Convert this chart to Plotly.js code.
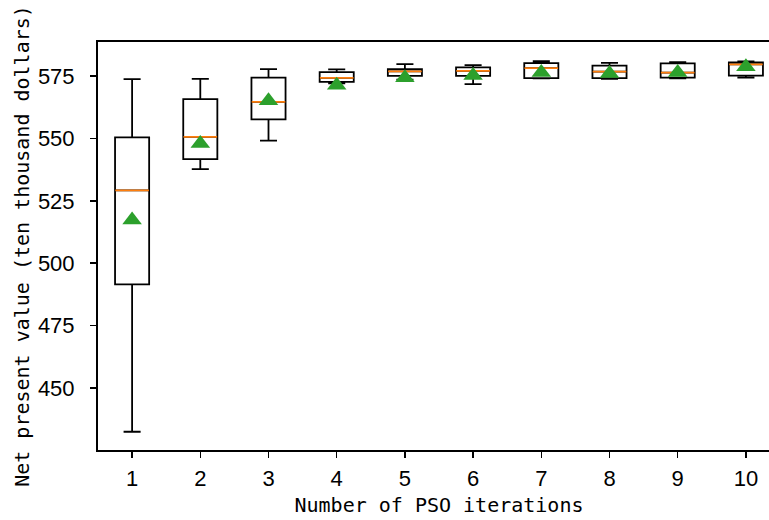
<!DOCTYPE html>
<html>
<head>
<meta charset="utf-8">
<script src="https://cdn.plot.ly/plotly-3.0.1.min.js"></script>
<style>
html, body { margin: 0; padding: 0; overflow: hidden; background: #fff; }
#chart { width: 782px; height: 520px; }
</style>
</head>
<body>
<div id="chart"></div>
<script>
// PSO iteration counts (x categories)
const iterations = [1, 2, 3, 4, 5, 6, 7, 8, 9, 10];
// Box statistics (ten thousand dollars)
const lowerWhisker = [432.5, 537.7, 549.1, 572.0, 573.5, 571.7, 574.0, 573.8, 574.0, 574.3];
const q1Values     = [491.5, 541.7, 557.6, 572.6, 575.0, 575.0, 574.1, 574.1, 574.3, 575.1];
const medianValues = [529.2, 550.6, 564.6, 574.2, 576.8, 577.0, 578.1, 576.7, 576.3, 579.6];
const q3Values     = [550.4, 565.7, 574.3, 576.5, 577.7, 578.4, 580.1, 579.1, 580.0, 580.4];
const upperWhisker = [573.7, 573.8, 577.7, 577.6, 579.7, 579.3, 580.9, 580.2, 580.5, 580.8];
const meanValues   = [517.3, 548.0, 565.1, 571.3, 574.3, 575.2, 576.4, 576.0, 576.4, 578.7];
const tickValsX = iterations;
const tickValsY = [450, 475, 500, 525, 550, 575];

const boxTrace = {
  type: 'box',
  x: iterations,
  q1: q1Values,
  median: medianValues,
  q3: q3Values,
  lowerfence: lowerWhisker,
  upperfence: upperWhisker,
  width: 0.5,
  whiskerwidth: 0.5,
  boxpoints: false,
  line: { color: '#000000', width: 1.8 },
  fillcolor: 'rgba(255,255,255,0)',
  showlegend: false,
  hoverinfo: 'skip'
};

const medianTrace = {
  type: 'scatter',
  mode: 'markers',
  x: iterations,
  y: medianValues,
  marker: { symbol: 'line-ew', size: 24, line: { color: '#ff7f0e', width: 1.8 } },
  showlegend: false,
  hoverinfo: 'skip'
};

const meanTrace = {
  type: 'scatter',
  mode: 'markers',
  x: iterations,
  y: meanValues,
  marker: { symbol: 'triangle-up', size: 17, color: '#2ca02c', line: { width: 0 } },
  showlegend: false,
  hoverinfo: 'skip'
};

const layout = {
  width: 782,
  height: 520,
  margin: { l: 98, r: 2, t: 42, b: 70 },
  paper_bgcolor: '#ffffff',
  plot_bgcolor: '#ffffff',
  showlegend: false,
  xaxis: {
    range: [0.5, 10.5],
    tickmode: 'array',
    tickvals: tickValsX,
    ticktext: tickValsX.map(String),
    ticks: 'outside',
    ticklen: 6,
    tickwidth: 1.5,
    tickcolor: '#000',
    ticklabelstandoff: 2,
    showgrid: false,
    zeroline: false,
    showline: true,
    linecolor: '#000',
    linewidth: 2,
    mirror: true,
    tickfont: { family: 'Liberation Sans, Arial, sans-serif', size: 22, color: '#000' },
    title: {
      text: 'Number of PSO iterations',
      font: { family: 'DejaVu Sans Mono, Liberation Mono, monospace', size: 20, color: '#000' },
      standoff: 8
    }
  },
  yaxis: {
    range: [425.2, 588.6],
    tickmode: 'array',
    tickvals: tickValsY,
    ticktext: tickValsY.map(String),
    ticks: 'outside',
    ticklen: 6,
    tickwidth: 1.5,
    tickcolor: '#000',
    ticklabelstandoff: 11,
    showgrid: false,
    zeroline: false,
    showline: true,
    linecolor: '#000',
    linewidth: 2,
    mirror: true,
    tickfont: { family: 'Liberation Sans, Arial, sans-serif', size: 22, color: '#000' },
    title: {
      text: 'Net present value (ten thousand dollars)',
      font: { family: 'DejaVu Sans Mono, Liberation Mono, monospace', size: 20, color: '#000' },
      standoff: 3
    }
  }
};

Plotly.newPlot('chart', [boxTrace, medianTrace, meanTrace], layout, { displayModeBar: false, staticPlot: true });
</script>
</body>
</html>
